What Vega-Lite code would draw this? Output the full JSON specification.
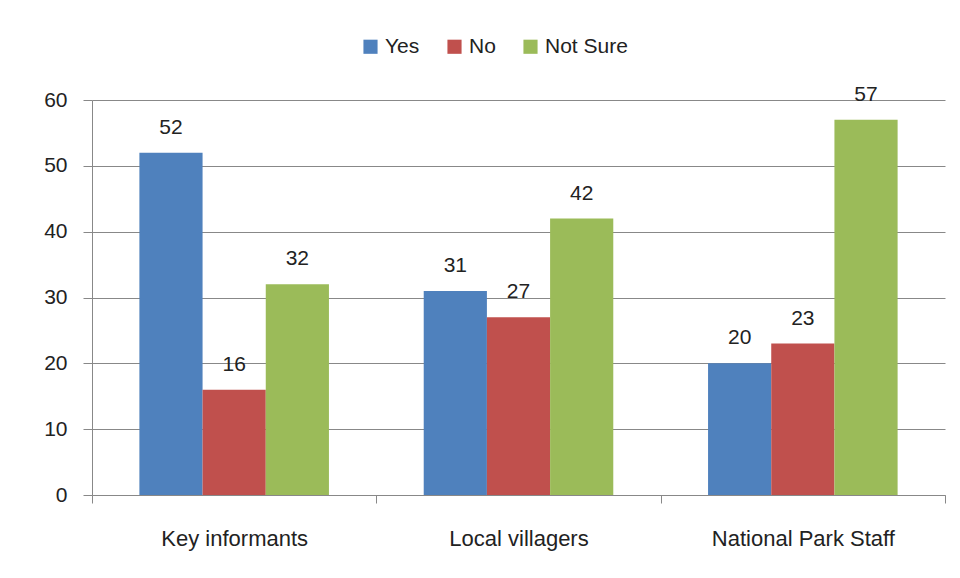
{
  "$schema": "https://vega.github.io/schema/vega-lite/v6.json",
  "width": 853,
  "height": 395,
  "autosize": "none",
  "padding": {"left": 92, "top": 100, "right": 15, "bottom": 83},
  "background": "white",
  "config": {
    "font": "Liberation Sans",
    "view": {"stroke": null}
  },
  "data": {
    "values": [
      {"group": "Key informants", "response": "Yes", "value": 52},
      {"group": "Key informants", "response": "No", "value": 16},
      {"group": "Key informants", "response": "Not Sure", "value": 32},
      {"group": "Local villagers", "response": "Yes", "value": 31},
      {"group": "Local villagers", "response": "No", "value": 27},
      {"group": "Local villagers", "response": "Not Sure", "value": 42},
      {"group": "National Park Staff", "response": "Yes", "value": 20},
      {"group": "National Park Staff", "response": "No", "value": 23},
      {"group": "National Park Staff", "response": "Not Sure", "value": 57}
    ]
  },
  "encoding": {
    "x": {
      "field": "group", "type": "nominal", "sort": null,
      "scale": {"paddingInner": 0, "paddingOuter": 0},
      "axis": {"title": null, "labelAngle": 0, "labelFontSize": 22, "labelLimit": 0, "labelColor": "#222", "labelPadding": 25, "domainColor": "#888", "tickColor": "#888", "tickSize": 8, "tickBand": "extent"}
    },
    "xOffset": {"field": "response", "type": "nominal", "sort": ["Yes", "No", "Not Sure"], "scale": {"paddingInner": 0, "paddingOuter": 0.75}},
    "y": {
      "field": "value", "type": "quantitative",
      "scale": {"domain": [0, 60]},
      "axis": {"title": null, "values": [0, 10, 20, 30, 40, 50, 60], "labelFontSize": 21, "labelColor": "#222", "labelPadding": 16, "gridColor": "#888", "domainColor": "#888", "tickColor": "#888", "tickSize": 9}
    }
  },
  "layer": [
    {
      "mark": {"type": "bar"},
      "encoding": {
        "color": {
          "field": "response", "type": "nominal", "sort": ["Yes", "No", "Not Sure"],
          "scale": {"domain": ["Yes", "No", "Not Sure"], "range": ["#4F81BD", "#C0504D", "#9BBB59"]},
          "legend": {"title": null, "orient": "none", "direction": "horizontal", "legendX": 268, "legendY": -64, "symbolType": "square", "symbolSize": 200, "symbolStrokeWidth": 0, "labelFontSize": 21, "labelColor": "#222", "columnPadding": 24, "symbolOpacity": 1}
        }
      }
    },
    {
      "mark": {"type": "text", "dy": -25, "fontSize": 21, "color": "#222"},
      "encoding": {"text": {"field": "value", "type": "quantitative"}}
    }
  ]
}
